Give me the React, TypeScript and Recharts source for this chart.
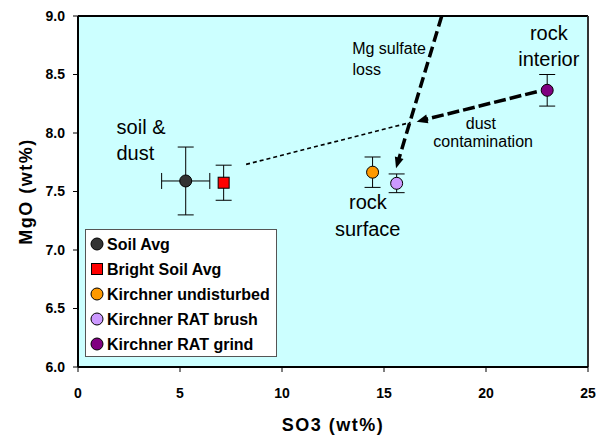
import React from 'react';
import {
  ScatterChart,
  Scatter,
  XAxis,
  YAxis,
  CartesianGrid,
  ErrorBar,
  ReferenceLine,
  Legend,
  Label,
} from 'recharts';

// ---------- data ----------
const seriesNames = ['Soil Avg', 'Bright Soil Avg', 'Kirchner undisturbed', 'Kirchner RAT brush', 'Kirchner RAT grind'];
const seriesColors = ['#333333', '#FF0000', '#FF9900', '#CC99FF', '#800080'];
const seriesShapes = ['circle', 'square', 'circle', 'circle', 'circle'];
const so3Values = [5.28, 7.14, 14.44, 15.62, 23.0];
const mgoValues = [7.59, 7.575, 7.665, 7.57, 8.365];
const so3Errors = [1.18, 0, 0, 0, 0];
const mgoErrors = [0.29, 0.15, 0.13, 0.08, 0.135];

const xTicks = [0, 5, 10, 15, 20, 25];
const yTicks = [6.0, 6.5, 7.0, 7.5, 8.0, 8.5, 9.0];

// big annotation labels
const bigLabels = ['soil &', 'dust', 'rock', 'interior', 'rock', 'surface'];
const bigLabelX = [3.09, 2.81, 23.08, 23.08, 14.21, 14.2];
const bigLabelY = [8.051, 7.831, 8.852, 8.635, 7.406, 7.179];

// small annotation labels
const smallLabels = ['Mg sulfate', 'loss', 'dust', 'contamination'];
const smallLabelX = [15.25, 14.15, 19.75, 19.86];
const smallLabelY = [8.723, 8.545, 8.084, 7.93];

// dotted mixing line
const mixLineX = [8.24, 16.3];
const mixLineY = [7.732, 8.09];

// arrows: Mg sulfate loss, dust contamination
const arrowFromX = [17.83, 22.49];
const arrowFromY = [9.0, 8.353];
const arrowToX = [15.59, 16.6];
const arrowToY = [7.698, 8.097];

// ---------- rendering ----------
const FONT = "Arial, 'Liberation Sans', sans-serif";

const seriesData = seriesNames.map((name, i) => [
  { x: so3Values[i], y: mgoValues[i], ex: so3Errors[i], ey: mgoErrors[i], name },
]);

const bigLabelData = bigLabels.map((label, i) => ({ x: bigLabelX[i], y: bigLabelY[i], label }));
const smallLabelData = smallLabels.map((label, i) => ({ x: smallLabelX[i], y: smallLabelY[i], label }));

const markerShape = (shape: string, color: string) => (props: any) => {
  const { cx, cy } = props;
  if (cx == null || cy == null) return <g />;
  if (shape === 'square') {
    return <rect x={cx - 5.5} y={cy - 5.5} width={11} height={11} fill={color} stroke="#000" strokeWidth={1} />;
  }
  return <circle cx={cx} cy={cy} r={6} fill={color} stroke="#000" strokeWidth={1} />;
};

const textShape = (size: number) => (props: any) => {
  const { cx, cy, payload } = props;
  if (cx == null || cy == null) return <g />;
  return (
    <text
      x={cx}
      y={cy}
      textAnchor="middle"
      dominantBaseline="central"
      fontSize={size}
      fontFamily={FONT}
      fill="#000"
    >
      {payload.label}
    </text>
  );
};

const arrowShape = (dash: string) => (props: any) => {
  const { x1, y1, x2, y2 } = props;
  if ([x1, y1, x2, y2].some((v) => v == null || isNaN(v))) return <g />;
  const dx = x2 - x1;
  const dy = y2 - y1;
  const len = Math.hypot(dx, dy) || 1;
  const ux = dx / len;
  const uy = dy / len;
  const headLen = 11;
  const headW = 9;
  const bx = x2 - ux * headLen;
  const by = y2 - uy * headLen;
  const nx = -uy;
  const ny = ux;
  return (
    <g>
      <line
        x1={x1}
        y1={y1}
        x2={bx + ux * 2}
        y2={by + uy * 2}
        stroke="#000"
        strokeWidth={3.5}
        strokeDasharray={dash}
      />
      <polygon
        points={`${x2},${y2} ${bx + (nx * headW) / 2},${by + (ny * headW) / 2} ${bx - (nx * headW) / 2},${by - (ny * headW) / 2}`}
        fill="#000"
      />
    </g>
  );
};

const renderLegend = () => (
  <div
    style={{
      boxSizing: 'border-box',
      width: 192,
      height: 128,
      background: '#fff',
      border: '1.5px solid #555',
      paddingTop: 1.5,
      paddingLeft: 4,
      fontFamily: FONT,
      fontWeight: 'bold',
      fontSize: 16,
      color: '#000',
    }}
  >
    {seriesNames.map((n, i) => (
      <div key={n} style={{ display: 'flex', alignItems: 'center', height: 25 }}>
        <svg width={14} height={14} style={{ marginRight: 3, flex: 'none' }}>
          {seriesShapes[i] === 'square' ? (
            <rect x={1.5} y={1.5} width={11} height={11} fill={seriesColors[i]} stroke="#000" strokeWidth={1} />
          ) : (
            <circle cx={7} cy={7} r={6} fill={seriesColors[i]} stroke="#000" strokeWidth={1} />
          )}
        </svg>
        <span style={{ lineHeight: '25px', whiteSpace: 'nowrap' }}>{n}</span>
      </div>
    ))}
  </div>
);

const tickStyle = { fill: '#000', fontSize: 14, fontWeight: 'bold', fontFamily: FONT };

export default function App() {
  return (
    <div style={{ position: 'absolute', left: 0, top: 0, width: 596, height: 436, background: '#fff' }}>
      <ScatterChart width={596} height={436} margin={{ top: 16, right: 8, bottom: 5, left: 28 }}>
        <CartesianGrid horizontal={false} vertical={false} fill="#CCFFFF" fillOpacity={1} stroke="none" />
        <XAxis
          type="number"
          dataKey="x"
          domain={[0, 25]}
          ticks={xTicks}
          interval={0}
          allowDataOverflow
          height={64}
          tickSize={5}
          tickMargin={16}
          axisLine={{ stroke: '#000', strokeWidth: 2 }}
          tickLine={{ stroke: '#000', strokeWidth: 1 }}
          tick={tickStyle}
        >
          <Label
            value="SO3 (wt%)"
            position="insideBottom"
            offset={0}
            fontSize={18}
            fontWeight="bold"
            fontFamily={FONT}
            fill="#000"
            style={{ letterSpacing: '1.5px' }}
          />
        </XAxis>
        <YAxis
          type="number"
          dataKey="y"
          domain={[6, 9]}
          ticks={yTicks}
          interval={0}
          allowDataOverflow
          width={50}
          tickSize={5}
          tickMargin={8}
          tickFormatter={(v: number) => v.toFixed(1)}
          axisLine={{ stroke: '#000', strokeWidth: 2 }}
          tickLine={{ stroke: '#000', strokeWidth: 1 }}
          tick={tickStyle}
        >
          <Label
            value="MgO (wt%)"
            angle={-90}
            position="center"
            dx={-27}
            fontSize={18}
            fontWeight="bold"
            fontFamily={FONT}
            fill="#000"
            style={{ letterSpacing: '1.5px' }}
          />
        </YAxis>
        <ReferenceLine y={9} stroke="#000" strokeWidth={2} />
        <ReferenceLine x={25} stroke="#333" strokeWidth={2} />
        <ReferenceLine
          segment={[
            { x: mixLineX[0], y: mixLineY[0] },
            { x: mixLineX[1], y: mixLineY[1] },
          ]}
          stroke="#000"
          strokeWidth={1.6}
          strokeDasharray="4 3"
        />
        <ReferenceLine
          segment={[
            { x: arrowFromX[0], y: arrowFromY[0] },
            { x: arrowToX[0], y: arrowToY[0] },
          ]}
          shape={arrowShape('11 5')}
        />
        <ReferenceLine
          segment={[
            { x: arrowFromX[1], y: arrowFromY[1] },
            { x: arrowToX[1], y: arrowToY[1] },
          ]}
          shape={arrowShape('12 4')}
        />
        {seriesNames.map((name, i) => (
          <Scatter
            key={name}
            name={name}
            data={seriesData[i]}
            fill={seriesColors[i]}
            shape={markerShape(seriesShapes[i], seriesColors[i])}
            isAnimationActive={false}
          >
            {so3Errors[i] > 0 && (
              <ErrorBar dataKey="ex" direction="x" width={8} stroke="#000" strokeWidth={1} />
            )}
            <ErrorBar dataKey="ey" direction="y" width={8} stroke="#000" strokeWidth={1} />
          </Scatter>
        ))}
        <Scatter data={bigLabelData} shape={textShape(20)} legendType="none" isAnimationActive={false} />
        <Scatter data={smallLabelData} shape={textShape(16)} legendType="none" isAnimationActive={false} />
        <Legend
          layout="vertical"
          align="center"
          verticalAlign="middle"
          content={renderLegend}
          wrapperStyle={{ left: 85, top: 229, width: 192, height: 128 }}
        />
      </ScatterChart>
    </div>
  );
}
